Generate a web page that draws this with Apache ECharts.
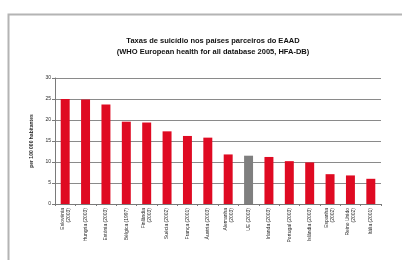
<!DOCTYPE html>
<html>
<head>
<meta charset="utf-8">
<script src="https://cdn.jsdelivr.net/npm/echarts@6/dist/echarts.min.js"></script>
<style>
  html, body { margin: 0; padding: 0; background: #fff; }
  #chart { width: 402px; height: 260px; }
</style>
</head>
<body>
<div id="chart"></div>
<script>
const countries = [
  'Eslovénia\n(2003)', 'Hungria (2003)', 'Estónia (2003)', 'Bélgica (1997)',
  'Finlândia\n(2003)', 'Suécia (2002)', 'França (2001)', 'Áustria (2003)',
  'Alemanha\n(2003)', 'UE (2003)', 'Irlanda (2003)', 'Portugal (2003)',
  'Islândia (2003)', 'Espanha\n(2002)', 'Reino Unido\n(2002)', 'Itália (2001)',
]
const rates = [25.0, 24.9, 23.7, 19.6, 19.4, 17.3, 16.2, 15.8, 11.8, 11.5, 11.2, 10.2, 9.9, 7.1, 6.8, 6.0]
const highlight = 'UE (2003)'

const colors = {
  bar: '#df0a22',
  ue: '#7f7f7f',
  grid: '#8a8a8a',
  axis: '#7a7a7a',
  text: '#2a2a2a',
}

const chart = echarts.init(document.getElementById('chart'), null, { renderer: 'canvas' })

chart.setOption({
  animation: false,
  title: {
    text: 'Taxas de suicídio nos países parceiros do EAAD\n(WHO European health for all database 2005, HFA-DB)',
    left: 208,
    top: 30,
    textAlign: 'center',
    textStyle: {
      fontFamily: 'Liberation Sans',
      fontSize: 7.5,
      fontWeight: 'bold',
      color: '#111',
      lineHeight: 11,
    },
  },
  graphic: [
    {
      type: 'rect',
      left: 6,
      top: 12,
      shape: { width: 420, height: 270 },
      style: { fill: 'none', stroke: '#b4b4b4', lineWidth: 2 },
      silent: true,
    },
  ],
  grid: { left: 55, right: 21, top: 78, bottom: 56 },
  xAxis: {
    type: 'category',
    data: countries,
    axisLine: { lineStyle: { color: colors.axis, width: 1 } },
    axisTick: { show: true, alignWithLabel: false, length: 2, lineStyle: { color: colors.axis } },
    axisLabel: {
      interval: 0,
      rotate: 90,
      fontFamily: 'Liberation Sans',
      fontSize: 5,
      lineHeight: 6,
      color: colors.text,
      margin: 4,
    },
  },
  yAxis: {
    type: 'value',
    min: 0,
    max: 30,
    interval: 5,
    name: 'per 100 000 habitantes',
    nameLocation: 'middle',
    nameGap: 14,
    nameTextStyle: { fontFamily: 'Liberation Sans', fontSize: 5, fontWeight: 'bold', color: colors.text },
    axisLine: { show: true, lineStyle: { color: colors.axis } },
    axisTick: { show: true, length: 3, lineStyle: { color: colors.axis } },
    axisLabel: { fontFamily: 'Liberation Sans', fontSize: 5, color: colors.text, margin: 4 },
    splitLine: { lineStyle: { color: colors.grid, width: 1 } },
  },
  series: [
    {
      type: 'bar',
      barWidth: '44%',
      data: rates.map((v, i) => ({
        value: v,
        itemStyle: { color: countries[i] === highlight ? colors.ue : colors.bar },
      })),
    },
  ],
})
</script>
</body>
</html>
